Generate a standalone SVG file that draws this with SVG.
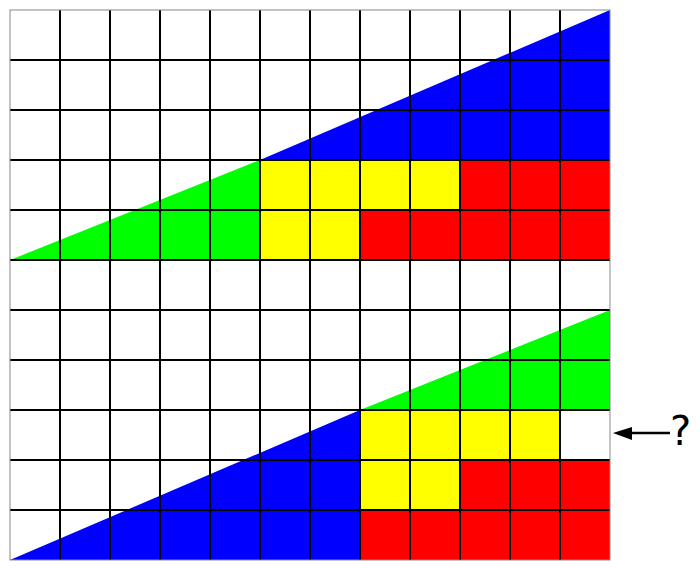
<svg xmlns="http://www.w3.org/2000/svg" width="700" height="580" viewBox="0 0 700 580">
<style>
.g{stroke:#000;stroke-width:2;fill:none}
.b{stroke:#888;stroke-width:1;fill:none}
</style>
<rect width="700" height="580" fill="#fff"/>
<g id="top">
<polygon id="top-blue" points="260,160 610,10 610,160" fill="#0000ff"/>
<polygon id="top-green" points="10,260 260,160 260,260" fill="#00ff00"/>
<polygon id="top-yellow" points="260,160 460,160 460,210 360,210 360,260 260,260" fill="#ffff00"/>
<polygon id="top-red" points="460,160 610,160 610,260 360,260 360,210 460,210" fill="#ff0000"/>
</g>
<g id="bottom">
<polygon id="bot-green" points="360,410 610,310 610,410" fill="#00ff00"/>
<polygon id="bot-blue" points="10,560 360,410 360,560" fill="#0000ff"/>
<polygon id="bot-yellow" points="360,410 560,410 560,460 460,460 460,510 360,510" fill="#ffff00"/>
<polygon id="bot-red" points="460,460 610,460 610,560 360,560 360,510 460,510" fill="#ff0000"/>
</g>
<g id="grid">
<path class="g" d="M60,10V560M110,10V560M160,10V560M210,10V560M260,10V560M310,10V560M360,10V560M410,10V560M460,10V560M510,10V560M560,10V560"/>
<path class="g" d="M10,60H610M10,110H610M10,160H610M10,210H610M10,260H610M10,310H610M10,360H610M10,410H610M10,460H610M10,510H610"/>
<rect class="b" x="10" y="10" width="600" height="550"/>
</g>
<g id="connectors">
<line x1="670" y1="433" x2="628" y2="433" stroke="#000" stroke-width="2.5"/>
<polygon points="613,433 632,427 632,440" fill="#000"/>
</g>
<text x="670" y="445" font-family="DejaVu Sans, sans-serif" font-size="40" fill="#000">?</text>
</svg>
